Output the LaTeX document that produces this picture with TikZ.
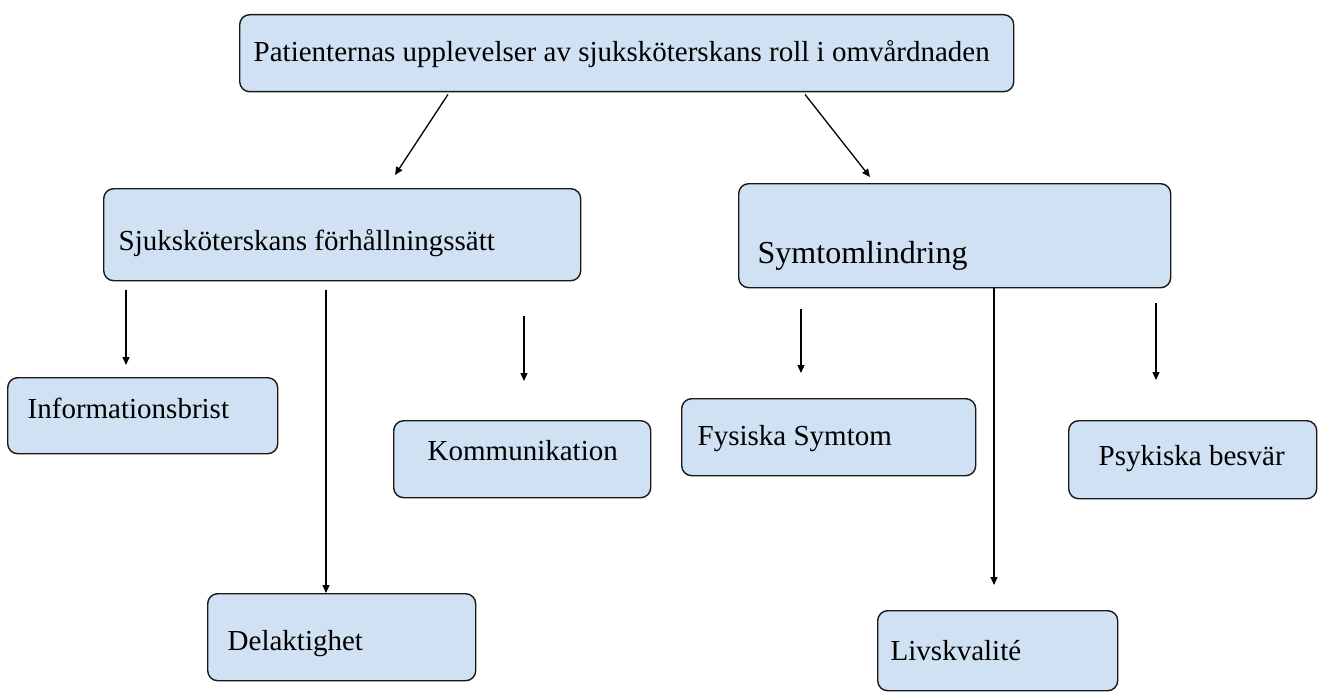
\documentclass[tikz,border=0pt]{standalone}
\usepackage{fontspec}
\setmainfont{Liberation Serif}
\usepackage{tikz}
\usetikzlibrary{arrows.meta}
\definecolor{boxblue}{RGB}{207,225,242}

\begin{document}
\begin{tikzpicture}[x=1pt,y=-1pt,line width=1.4pt,
    box/.style={draw=black!90,fill=boxblue,rounded corners=10pt,anchor=north west,inner sep=0pt},
    lbl/.style={anchor=base west,inner sep=0pt,font=\fontsize{29}{34}\selectfont},
    arr/.style={-{Triangle[length=8pt,width=7pt]},line width=1.3pt}]
  \useasboundingbox (0,0) rectangle (1318,693);
  \node[box,minimum width=774pt,minimum height=77pt] (top) at (239,14) {};
  \node[box,minimum width=477pt,minimum height=92pt] (sjuk) at (103,188) {};
  \node[box,minimum width=432pt,minimum height=104pt] (symt) at (738,183) {};
  \node[box,minimum width=270pt,minimum height=76pt] (info) at (7,377) {};
  \node[box,minimum width=257pt,minimum height=77pt] (komm) at (393,420) {};
  \node[box,minimum width=268pt,minimum height=87pt] (delak) at (207,593) {};
  \node[box,minimum width=294pt,minimum height=77pt] (fys) at (681,398) {};
  \node[box,minimum width=248pt,minimum height=78pt] (psyk) at (1068,420) {};
  \node[box,minimum width=240pt,minimum height=80pt] (livs) at (877,610) {};
  \node[lbl] (toplbl) at ([shift={(14,48)}]top.north west) {Patienternas upplevelser av sjuksköterskans roll i omvårdnaden};
  \node[lbl] (sjuklbl) at ([shift={(15,62)}]sjuk.north west) {Sjuksköterskans förhållningssätt};
  \node[lbl,font=\fontsize{32}{38}\selectfont] (symtlbl) at ([shift={(19,80)}]symt.north west) {Symtomlindring};
  \node[lbl] (infolbl) at ([shift={(20,41)}]info.north west) {Informationsbrist};
  \node[lbl] (kommlbl) at ([shift={(34,40)}]komm.north west) {Kommunikation};
  \node[lbl] (delaklbl) at ([shift={(20,57)}]delak.north west) {Delaktighet};
  \node[lbl] (fyslbl) at ([shift={(16,47)}]fys.north west) {Fysiska Symtom};
  \node[lbl] (psyklbl) at ([shift={(30,45)}]psyk.north west) {Psykiska besvär};
  \node[lbl] (livslbl) at ([shift={(13,50)}]livs.north west) {Livskvalité};
  \draw[arr] ([shift={(209,2)}]top.south west) -- ([shift={(292,-13)}]sjuk.north west);
  \draw[arr] ([shift={(566,2)}]top.south west) -- ([shift={(132,-6)}]symt.north west);
  \draw[arr] ([shift={(23,9)}]sjuk.south west) -- ([shift={(119,-12)}]info.north west);
  \draw[arr] ([shift={(223,9)}]sjuk.south west) -- ([shift={(119,0)}]delak.north west);
  \draw[arr] ([shift={(421,35)}]sjuk.south west) -- ([shift={(131,-39)}]komm.north west);
  \draw[arr] ([shift={(63,21)}]symt.south west) -- ([shift={(120,-25)}]fys.north west);
  \draw[arr] ([shift={(256,0)}]symt.south west) -- ([shift={(117,-25)}]livs.north west);
  \draw[arr] ([shift={(418,15)}]symt.south west) -- ([shift={(88,-40)}]psyk.north west);
\end{tikzpicture}
\end{document}
